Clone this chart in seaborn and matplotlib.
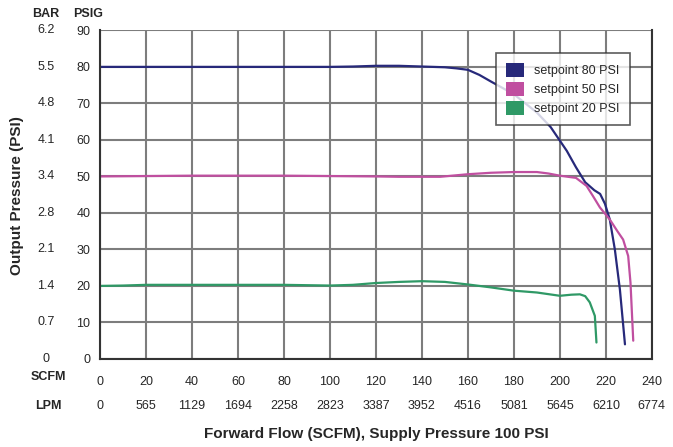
import pandas as pd
import matplotlib.pyplot as plt
import seaborn as sns
from matplotlib.patches import Patch
from matplotlib.transforms import blended_transform_factory

# data
flow_80 = [0, 20, 40, 60, 80, 100, 110, 120, 130, 140, 150, 155, 160, 165, 170, 180,
           190, 196, 203, 207, 211, 215, 217.5, 219.6, 221.7, 223.9, 226.1, 228.3]
psi_80 = [80, 80, 80, 80, 80, 80, 80.1, 80.3, 80.3, 80.1, 79.9, 79.6, 79.2, 77.8, 76, 72.5,
          67.5, 63.5, 57, 52.5, 48.4, 46.2, 45.2, 42.5, 38.2, 30, 19, 4]

flow_50 = [0, 20, 40, 60, 80, 100, 120, 130, 140, 148, 160, 170, 180, 190, 195, 200,
           207, 211.6, 214.5, 217.4, 221.7, 225, 227.5, 229.7, 230.7, 231.9]
psi_50 = [50, 50.1, 50.2, 50.2, 50.2, 50.1, 50, 49.9, 49.9, 49.9, 50.6, 51.0, 51.2, 51.2, 50.8, 50.2,
          49.6, 47.4, 44.5, 41.5, 38.2, 35, 32.7, 28.2, 20.9, 5]

flow_20 = [0, 10, 20, 40, 60, 80, 90, 100, 110, 120, 130, 140, 150, 160, 170, 180,
           190, 200, 205, 208.7, 211, 213, 215.2, 215.9]
psi_20 = [20, 20.1, 20.3, 20.3, 20.3, 20.3, 20.2, 20.1, 20.3, 20.8, 21.1, 21.3, 21.1, 20.4, 19.6, 18.7,
          18.2, 17.3, 17.6, 17.7, 17.2, 15.5, 11.8, 4.5]

series = ["setpoint 80 PSI", "setpoint 50 PSI", "setpoint 20 PSI"]
colors = ["#27297a", "#c04fa0", "#2f9966"]

scfm_ticks = [0, 20, 40, 60, 80, 100, 120, 140, 160, 180, 200, 220, 240]
lpm_labels = ["0", "565", "1129", "1694", "2258", "2823", "3387", "3952", "4516",
              "5081", "5645", "6210", "6774"]
psig_ticks = [0, 10, 20, 30, 40, 50, 60, 70, 80, 90]
bar_labels = ["0", "0.7", "1.4", "2.1", "2.8", "3.4", "4.1", "4.8", "5.5", "6.2"]

df = pd.concat([
    pd.DataFrame({"flow": flow_80, "psi": psi_80, "setpoint": series[0]}),
    pd.DataFrame({"flow": flow_50, "psi": psi_50, "setpoint": series[1]}),
    pd.DataFrame({"flow": flow_20, "psi": psi_20, "setpoint": series[2]}),
])

sns.set_style("white")
plt.rcParams["font.family"] = ["Liberation Sans", "DejaVu Sans"]

fig = plt.figure(figsize=(6.73, 4.47), dpi=100)
ax = fig.add_axes([0.1486, 0.197, 0.820, 0.735])

sns.lineplot(data=df, x="flow", y="psi", hue="setpoint", palette=colors,
             hue_order=series, sort=False, estimator=None, linewidth=1.6, ax=ax, legend=False)

ax.set_xlim(0, 240)
ax.set_ylim(0, 90)
ax.set_xticks(scfm_ticks)
ax.set_xticklabels([str(t) for t in scfm_ticks], fontsize=9)
ax.set_yticks(psig_ticks)
ax.set_yticklabels([str(t) for t in psig_ticks], fontsize=9)
ax.tick_params(axis="x", length=0, pad=12)
ax.tick_params(axis="y", length=0, pad=7)
ax.grid(True, color="#7d7d7d", linewidth=1.5)
ax.set_axisbelow(True)
for side in ["left", "bottom", "right"]:
    ax.spines[side].set_color("#333333")
    ax.spines[side].set_linewidth(1.5)
ax.spines["top"].set_visible(False)
ax.set_xlabel("")
ax.set_ylabel("")

# BAR column on the left
ty = blended_transform_factory(fig.transFigure, ax.transData)
for v, lab in zip(psig_ticks, bar_labels):
    ax.text(46 / 673, v, lab, transform=ty, ha="center", va="center", fontsize=9)
fig.text(46 / 673, 1 - 14 / 447, "BAR", ha="center", va="center", fontsize=9, fontweight="bold")
fig.text(88 / 673, 1 - 14 / 447, "PSIG", ha="center", va="center", fontsize=9, fontweight="bold")

# LPM row underneath
tx = blended_transform_factory(ax.transData, fig.transFigure)
for v, lab in zip(scfm_ticks, lpm_labels):
    ax.text(v, 1 - 406 / 447, lab, transform=tx, ha="center", va="center", fontsize=9)
fig.text(48 / 673, 1 - 377 / 447, "SCFM", ha="center", va="center", fontsize=9, fontweight="bold")
fig.text(48 / 673, 1 - 406 / 447, "LPM", ha="center", va="center", fontsize=9, fontweight="bold")

fig.text(376 / 673, 1 - 434 / 447, "Forward Flow (SCFM), Supply Pressure 100 PSI",
         ha="center", va="center", fontsize=11, fontweight="bold")
fig.text(17 / 673, 1 - 196 / 447, "Output Pressure (PSI)", rotation=90,
         ha="center", va="center", fontsize=11, fontweight="bold")

handles = [Patch(facecolor=c, edgecolor="none") for c in colors]
leg = ax.legend(handles, series, loc="upper right", bbox_to_anchor=(0.96, 0.93),
                borderaxespad=0, fontsize=9, frameon=True, fancybox=False, handlelength=1.5,
                handleheight=1.3, handletextpad=0.8, borderpad=0.8, labelspacing=0.4)
leg.get_frame().set_edgecolor("#333333")
leg.get_frame().set_linewidth(1.2)

fig.savefig("out.png", dpi=100)
